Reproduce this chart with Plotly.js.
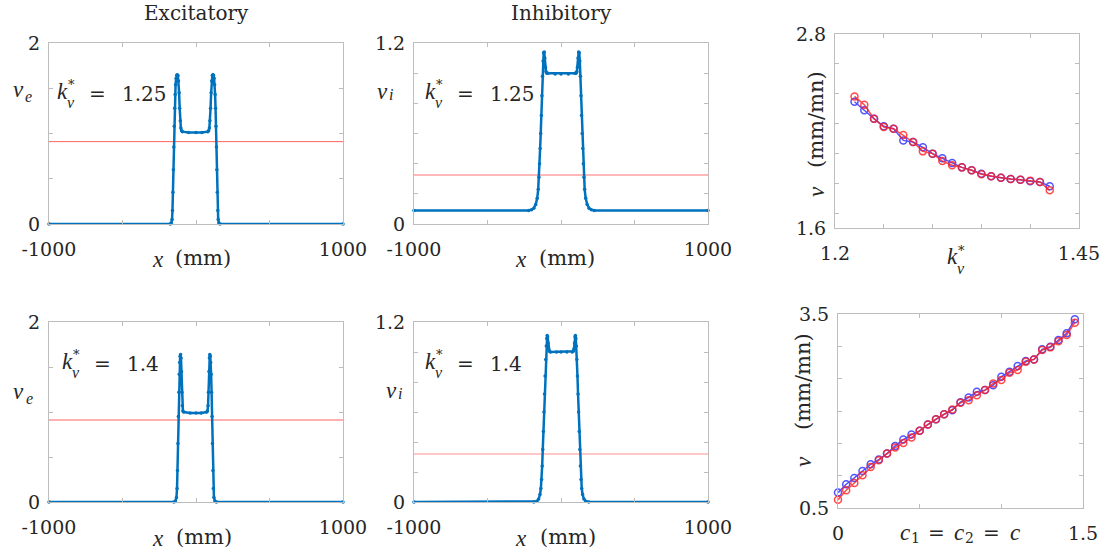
<!DOCTYPE html>
<html><head><meta charset="utf-8">
<script src="https://cdn.plot.ly/plotly-3.0.1.min.js"></script>
<style>html,body{margin:0;padding:0;background:#fff}#chart{width:1111px;height:555px}</style>
</head><body><div id="chart"></div>
<script>
// ---------- data ----------
// Excitatory profile, k_v* = 1.25
const xE1 = [-1000,-175,-168,-163,-160,-157,-154,-151,-148,-145,-142,-139,-135,-131,-127,-123,-119,-115,-111,-107,-103,-98,-92,
             -50,0,40,
             80,86,91,95,99,103,107,111,115,119,123,127,130,133,136,139,142,145,148,151,156,163,1000];
const vE1 = [0,0,0.01,0.05,0.15,0.35,0.6,0.85,1.08,1.28,1.43,1.54,1.61,1.645,1.65,1.64,1.58,1.45,1.28,1.14,1.06,1.03,1.02,
             1.01,1.01,1.01,
             1.02,1.03,1.06,1.14,1.28,1.45,1.58,1.64,1.65,1.645,1.61,1.54,1.43,1.28,1.08,0.85,0.6,0.35,0.15,0.05,0.01,0,0];
// Inhibitory profile, k_v* = 1.25
const xI1 = [-1000,-220,-200,-185,-172,-162,-155,-150,-146,-142,-138,-134,-130,-126,-122,-118,-114,-110,-106,-102,-96,-88,
             -40,0,50,
             94,102,108,112,116,120,124,128,132,136,140,144,148,152,156,161,168,178,191,206,226,1000];
const vI1 = [0.09,0.09,0.095,0.105,0.13,0.17,0.23,0.31,0.4,0.5,0.6,0.72,0.85,0.98,1.08,1.135,1.14,1.1,1.04,1.01,1.0,1.0,
             0.995,0.995,0.995,
             1.0,1.0,1.01,1.04,1.1,1.14,1.135,1.08,0.98,0.85,0.72,0.6,0.5,0.4,0.31,0.23,0.17,0.13,0.105,0.095,0.09,0.09];
// Excitatory profile, k_v* = 1.4
const xE2 = [-1000,-150,-140,-133,-129,-126,-123,-120,-117,-114,-111,-108,-105,-102,-99,-96,-93,-89,-84,
             -40,0,35,
             73,78,82,85,88,91,94,97,100,103,106,109,112,115,118,122,129,139,1000];
const vE2 = [0,0,0.01,0.05,0.15,0.35,0.65,0.95,1.22,1.42,1.55,1.62,1.64,1.6,1.45,1.22,1.07,1.01,1.0,
             0.99,0.99,0.99,
             1.0,1.01,1.07,1.22,1.45,1.6,1.64,1.62,1.55,1.42,1.22,0.95,0.65,0.35,0.15,0.05,0.01,0,0];
// Inhibitory profile, k_v* = 1.4
const xI2 = [-1000,-185,-165,-152,-143,-137,-132,-128,-124,-120,-116,-112,-108,-104,-100,-97,-94,-91,-88,-84,-79,-72,
             -30,0,40,
             76,83,88,92,95,98,101,104,108,112,116,120,124,128,132,136,141,147,156,169,189,1000];
const vI2 = [0,0,0.005,0.02,0.05,0.09,0.15,0.24,0.35,0.47,0.6,0.72,0.84,0.95,1.04,1.09,1.11,1.1,1.06,1.02,1.005,1.0,
             1.0,1.0,1.0,
             1.0,1.005,1.02,1.06,1.1,1.11,1.09,1.04,0.95,0.84,0.72,0.6,0.47,0.35,0.24,0.15,0.09,0.05,0.02,0.005,0,0];
// homogeneous steady states (red lines)
const steadyE1 = 0.91, steadyI1 = 0.325, steadyE2 = 0.91, steadyI2 = 0.32;
const xDomain = [-1000, 1000];

// speed vs k_v*
const kStar   = [1.22,1.23,1.24,1.25,1.26,1.27,1.28,1.29,1.30,1.31,1.32,1.33,1.34,1.35,1.36,1.37,1.38,1.39,1.40,1.41,1.42];
const nuBlueK = [2.381,2.328,2.276,2.229,2.214,2.142,2.132,2.099,2.060,2.031,2.002,1.975,1.957,1.936,1.920,1.911,1.903,1.899,1.889,1.885,1.858];
const nuRedK  = [2.414,2.363,2.276,2.225,2.214,2.175,2.132,2.074,2.060,2.014,1.988,1.975,1.957,1.932,1.920,1.911,1.903,1.899,1.893,1.885,1.833];

// speed vs c
const cVals   = [0,0.05,0.1,0.15,0.2,0.25,0.3,0.35,0.4,0.45,0.5,0.55,0.6,0.65,0.7,0.75,0.8,0.85,0.9,0.95,1.0,1.05,1.1,1.15,1.2,1.25,1.3,1.35,1.4,1.45];
const nuBlueC = [0.738,0.867,0.965,1.073,1.176,1.249,1.342,1.460,1.559,1.636,1.693,1.791,1.874,1.951,2.013,2.137,2.209,2.297,2.323,2.400,2.529,2.607,2.695,2.772,2.798,2.953,2.994,3.097,3.201,3.418];
const nuRedC  = [0.629,0.774,0.887,1.006,1.135,1.238,1.342,1.435,1.507,1.590,1.693,1.791,1.874,1.951,2.023,2.127,2.168,2.245,2.323,2.426,2.478,2.591,2.633,2.762,2.798,2.943,2.984,3.077,3.175,3.366];

// labelled ticks and unlabelled (minor) tick marks
const xProfTicks = [-1000,1000], xProfMinor = [-500,0,500];
const yETicks = [0,2], yEMinor = [0.5,1,1.5];
const yITicks = [0,1.2], yIMinor = [0.2,0.4,0.6,0.8,1.0];
const kTicks = [1.2,1.45], kMinor = [1.25,1.3,1.35,1.4];
const nuKTicks = [1.6,2.8], nuKMinor = [1.69,1.875,2.06,2.245,2.43,2.615];
const cTicks = [0,1.5], cMinor = [0.5,1];
const nuCTicks = [0.5,3.5], nuCMinor = [1,1.5,2,2.5,3];

// ---------- styling / layout ----------
const W = 1111, H = 555;
const F = 'DejaVu Serif', FI = 'Liberation Serif', TC = '#262626';
const BLUE = '#0072BD';
const px = x => x / W, py = y => 1 - y / H;

function axis(dom, range, tv, minor, anchor, isX) {
  return {
    domain: dom, range: range, tickvals: tv, ticktext: tv.map(String), anchor: anchor,
    showline: true, mirror: 'ticks', linecolor: '#bdbdbd', linewidth: 1,
    ticks: 'inside', ticklen: 4, tickcolor: '#bdbdbd', tickwidth: 1,
    minor: {tickvals: minor, ticks: 'inside', ticklen: 4, tickcolor: '#bdbdbd', tickwidth: 1, showgrid: false},
    showgrid: false, zeroline: false, fixedrange: true,
    ticklabelstandoff: isX ? 8 : 4,
    tickfont: {family: F, size: 19, color: TC}
  };
}
const dx = (a, b) => [px(a), px(b)];
const dy = (top, bottom) => [py(bottom), py(top)];

function profile(x, y, xa, ya) {
  return {x: x, y: y, xaxis: xa, yaxis: ya, type: 'scatter', mode: 'lines+markers',
          line: {color: BLUE, width: 2.5}, marker: {color: BLUE, size: 3.5}, cliponaxis: false, hoverinfo: 'skip'};
}
function steady(s, xa, ya, color, w) {
  return {x: xDomain, y: [s, s], xaxis: xa, yaxis: ya, type: 'scatter', mode: 'lines',
          line: {color: color, width: w}, hoverinfo: 'skip'};
}
function speed(x, y, xa, ya, color) {
  return {x: x, y: y, xaxis: xa, yaxis: ya, type: 'scatter', mode: 'lines+markers',
          line: {color: color, width: 1.5}, marker: {symbol: 'circle-open', size: 7, color: color, line: {width: 1.5}},
          opacity: 0.8, cliponaxis: false, hoverinfo: 'skip'};
}

const data = [
  steady(steadyE1, 'x', 'y', '#ff6262', 1),
  profile(xE1, vE1, 'x', 'y'),
  steady(steadyI1, 'x2', 'y2', '#ffa0a0', 1.5),
  profile(xI1, vI1, 'x2', 'y2'),
  speed(kStar, nuBlueK, 'x3', 'y3', 'rgb(40,40,255)'),
  speed(kStar, nuRedK, 'x3', 'y3', 'rgb(255,30,30)'),
  steady(steadyE2, 'x4', 'y4', '#ffb0b0', 2),
  profile(xE2, vE2, 'x4', 'y4'),
  steady(steadyI2, 'x5', 'y5', '#ffb5b5', 1.5),
  profile(xI2, vI2, 'x5', 'y5'),
  speed(cVals, nuBlueC, 'x6', 'y6', 'rgb(40,40,255)'),
  speed(cVals, nuRedC, 'x6', 'y6', 'rgb(255,30,30)')
];

function txt(x, y, text, size, extra, family) {
  return Object.assign({xref: 'paper', yref: 'paper', x: px(x), y: py(y), text: text, showarrow: false,
    xanchor: 'center', yanchor: 'middle', font: {family: family || F, size: size, color: TC}}, extra || {});
}
const it = (x, y, s, size, extra) => txt(x, y, '<i>' + s + '</i>', size, extra, FI);

// k_v^* = value, composed of pieces so the star sits above the subscript
function kLabel(x0, yc, value) {
  const out = [
    it(x0, yc - 3, 'k', 23, {xanchor: 'left'}),
    txt(x0 + 16, yc - 10, '*', 13),
    it(x0 + 16, yc + 8, 'v', 16)
  ];
  if (value !== null) {
    out.push(txt(x0 + 42, yc, '=', 20));
    out.push(txt(x0 + 65, yc, value, 20, {xanchor: 'left'}));
  }
  return out;
}
// v with a subscript letter
function vLabel(xv, yv, sub, xs, ys) {
  return [it(xv, yv, 'v', 23), it(xs, ys, sub, 16)];
}
// "x (mm)" axis label
function xmm(xc, left, yc) {
  return [it(xc, yc, 'x', 23), txt(left, yc - 1, '(mm)', 21, {xanchor: 'left'})];
}
// rotated "nu (mm/mn)" axis label
function nuLabel(xc, yNu, yUnit) {
  return [it(xc, yNu, 'ν', 23, {textangle: -90}), txt(xc, yUnit, '(mm/mn)', 21, {textangle: -90})];
}

const annotations = [
  txt(196, 13, 'Excitatory', 20),
  txt(561, 13, 'Inhibitory', 20),
  it(905, 532, 'c', 23), txt(915, 538, '1', 14), txt(936, 533, '=', 20),
  it(959, 532, 'c', 23), txt(969, 538, '2', 14), txt(991, 533, '=', 20),
  it(1015, 532, 'c', 23)
].concat(
  xmm(158, 173, 259), xmm(521, 537, 259), xmm(158, 174, 538), xmm(521, 538, 538),
  nuLabel(816, 192, 120), nuLabel(803, 462, 382),
  vLabel(18, 89, 'e', 28, 96), vLabel(382, 91, 'i', 391, 94),
  vLabel(18, 391, 'e', 29, 398), vLabel(391, 390, 'i', 400, 393),
  kLabel(55, 94, '1.25'), kLabel(423, 94, '1.25'), kLabel(60, 364, '1.4'), kLabel(423, 364, '1.4'), kLabel(945, 260, null));

const layout = {
  width: W, height: H, margin: {l: 0, r: 0, t: 0, b: 0},
  paper_bgcolor: '#fff', plot_bgcolor: '#fff', showlegend: false,
  xaxis:  axis(dx(49, 343),  xDomain, xProfTicks, xProfMinor, 'y', true),
  yaxis:  axis(dy(43, 224),  [0, 2], yETicks, yEMinor, 'x', false),
  xaxis2: axis(dx(414, 708), xDomain, xProfTicks, xProfMinor, 'y2', true),
  yaxis2: axis(dy(43, 224),  [0, 1.2], yITicks, yIMinor, 'x2', false),
  xaxis3: axis(dx(835, 1079), [1.2, 1.45], kTicks, kMinor, 'y3', true),
  yaxis3: axis(dy(34, 228),  [1.6, 2.8], nuKTicks, nuKMinor, 'x3', false),
  xaxis4: axis(dx(49, 343),  xDomain, xProfTicks, xProfMinor, 'y4', true),
  yaxis4: axis(dy(322, 502), [0, 2], yETicks, yEMinor, 'x4', false),
  xaxis5: axis(dx(414, 708), xDomain, xProfTicks, xProfMinor, 'y5', true),
  yaxis5: axis(dy(322, 502), [0, 1.2], yITicks, yIMinor, 'x5', false),
  xaxis6: axis(dx(838, 1083), [0, 1.5], cTicks, cMinor, 'y6', true),
  yaxis6: axis(dy(314, 508), [0.5, 3.5], nuCTicks, nuCMinor, 'x6', false),
  annotations: annotations
};

Plotly.newPlot('chart', data, layout, {staticPlot: true, displayModeBar: false});
</script>
</body></html>
